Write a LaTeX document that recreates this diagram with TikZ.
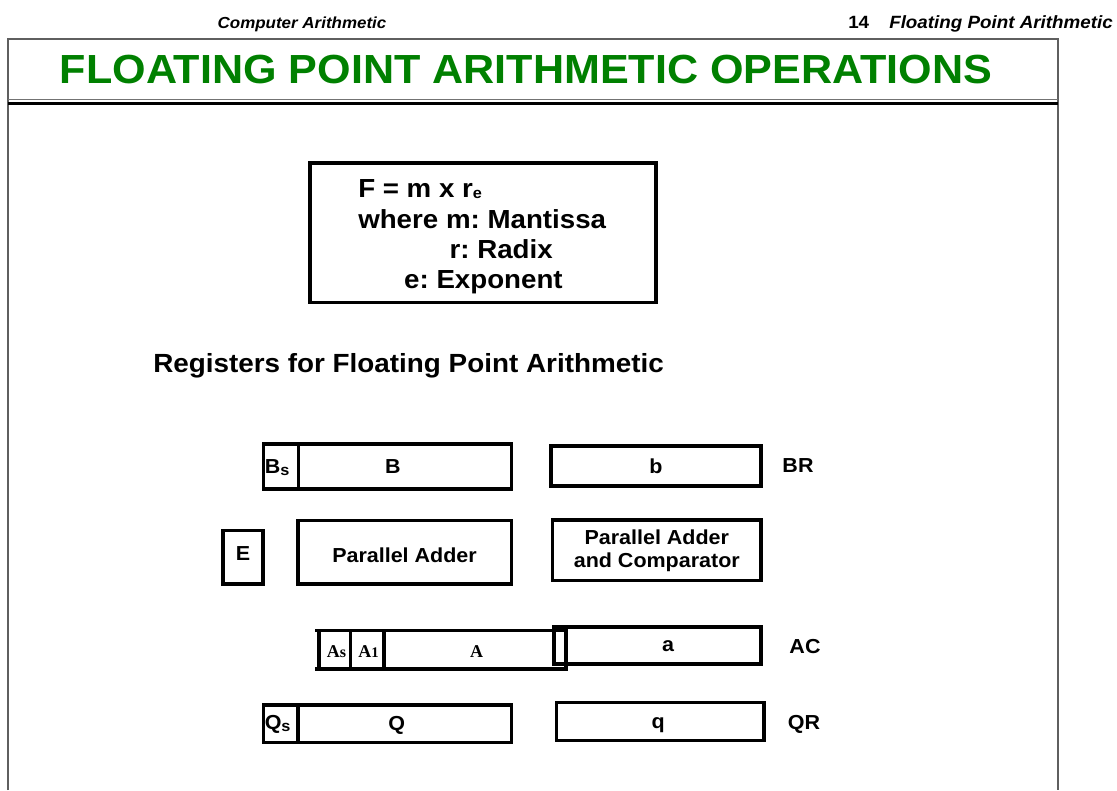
\documentclass[tikz,border=0pt]{standalone}
\usepackage{fontspec}
\setmainfont{Liberation Sans}[FakeStretch=1.06]
\newfontfamily\tnr{Liberation Serif}
\definecolor{titlegreen}{RGB}{0,128,0}
\definecolor{framegray}{RGB}{95,95,95}
\frenchspacing
\begin{document}
\begin{tikzpicture}[x=0.75pt,y=-0.75pt,
  reg/.style={draw, line width=2.4pt, inner sep=0pt, outer sep=0pt},
  lab/.style={font=\fontsize{15.2}{18}\selectfont\bfseries, inner sep=0pt, anchor=base},
  ftxt/.style={font=\fontsize{19.6}{24}\selectfont\bfseries, inner sep=0pt},
  hdr/.style={font=\fontsize{12}{14}\selectfont\bfseries, inner sep=0pt},
  tlab/.style={font=\fontsize{13.5}{15}\selectfont\tnr\bfseries, inner sep=0pt, anchor=base}]
\useasboundingbox (0,0) rectangle (1117,790);
% frame
\draw[framegray, line width=1.5pt] (8,790) -- (8,39) -- (1058,39) -- (1058,790);
\draw[black!55, line width=0.75pt] (8,99) -- (1058,99);
\draw[black, line width=2.5pt] (8,103.5) -- (1058,103.5);
% header
\node[hdr, anchor=base] (hl) at (302,28) {\itshape Computer Arithmetic};
\node[hdr, font=\fontsize{13.3}{15}\selectfont\bfseries, anchor=base east] (hr) at (1113,28) {\itshape Floating Point Arithmetic};
\node[hdr, font=\fontsize{13.3}{15}\selectfont\bfseries, anchor=base west] (hn) at (848,28) {14};
% title
\node[font=\fontsize{30.5}{36}\selectfont\bfseries, text=titlegreen, inner sep=0pt, anchor=base] (title) at (526,83) {FLOATING POINT ARITHMETIC OPERATIONS};
% formula box
\node[reg, minimum width={346*0.75pt}, minimum height={139.5*0.75pt}] (fbox) at (483,232.8) {};
\node[ftxt, anchor=base west] (f1) at (358,197) {F = m x r\raisebox{-1pt}{\fontsize{11.5}{12}\selectfont e}};
\node[ftxt, anchor=base west] (f2) at (358,228) {where m: Mantissa};
\node[ftxt, anchor=base east] (f3) at (553,258.5) {r: Radix};
\node[ftxt, anchor=base east] (f4) at (563,288.5) {e: Exponent};
% heading
\node[font=\fontsize{19.7}{24}\selectfont\bfseries, inner sep=0pt, anchor=base west] (regs) at (153,372) {Registers for Floating Point Arithmetic};
% BR row
\node[reg, minimum width={35*0.75pt}, minimum height={45*0.75pt}] (Bs) at (280.8,466.5) {};
\node[reg, minimum width={213.5*0.75pt}, minimum height={45*0.75pt}] (B) at (405,466.5) {};
\node[reg, minimum width={210*0.75pt}, minimum height={40*0.75pt}] (b) at (656,466) {};
\node[lab, anchor=base west] (Bslab) at (264.5,473.5) {B\raisebox{-1.8pt}{\fontsize{11.5}{12}\selectfont s}};
\node[lab] (Blab) at (393,473.5) {B};
\node[lab] (blab) at (656,473) {b};
\node[lab] (BR) at (798,472.5) {BR};
% adders
\node[reg, minimum width={40*0.75pt}, minimum height={53.3*0.75pt}] (E) at (243,557.3) {};
\node[lab] (Elab) at (243,560.5) {E};
\node[reg, minimum width={213.7*0.75pt}, minimum height={63.3*0.75pt}] (PA) at (404.8,552.3) {};
\node[lab] (PAlab) at (404.5,562) {Parallel Adder};
\node[reg, minimum width={208.3*0.75pt}, minimum height={60.7*0.75pt}] (PAC) at (656.8,550.3) {};
\node[lab] (PAC1) at (656.8,544.5) {Parallel Adder};
\node[lab] (PAC2) at (656.8,567.5) {and Comparator};
% AC row
\node[reg, minimum width={31.7*0.75pt}, minimum height={38.3*0.75pt}] (As) at (334.85,649.85) {};
\node[reg, minimum width={33.3*0.75pt}, minimum height={38.3*0.75pt}] (A1) at (367.35,649.85) {};
\node[reg, minimum width={182*0.75pt}, minimum height={38.3*0.75pt}] (A) at (475,649.85) {};
\draw[line width=2.4pt] (As.north west) -- ++(-4,0);
\draw[line width=2.4pt] (As.south west) -- ++(-4,0);
\node[reg, minimum width={12*0.75pt}, minimum height={37*0.75pt}] (Asm) at (560,645.5) {};
\node[reg, minimum width={195*0.75pt}, minimum height={37*0.75pt}] (a) at (663.5,645.5) {};
\node[tlab] (Aslab) at (336.5,657) {A{\fontsize{12}{12}\selectfont s}};
\node[tlab] (A1lab) at (368.5,657) {A{\fontsize{11}{12}\selectfont 1}};
\node[tlab] (Alab) at (476.7,657) {A};
\node[lab] (alab) at (668,651) {a};
\node[lab] (AC) at (805,653) {AC};
% QR row
\node[reg, minimum width={34.7*0.75pt}, minimum height={37.3*0.75pt}] (Qs) at (280.65,723.65) {};
\node[reg, minimum width={213.7*0.75pt}, minimum height={37.3*0.75pt}] (Q) at (404.85,723.65) {};
\node[reg, minimum width={207.3*0.75pt}, minimum height={38*0.75pt}] (q) at (660.35,721.7) {};
\node[lab, anchor=base west] (Qslab) at (264.5,729) {Q\raisebox{-1.8pt}{\fontsize{11.5}{12}\selectfont s}};
\node[lab] (Qlab) at (396.7,730) {Q};
\node[lab] (qlab) at (658.3,728) {q};
\node[lab] (QR) at (804,729.5) {QR};
\end{tikzpicture}
\end{document}
